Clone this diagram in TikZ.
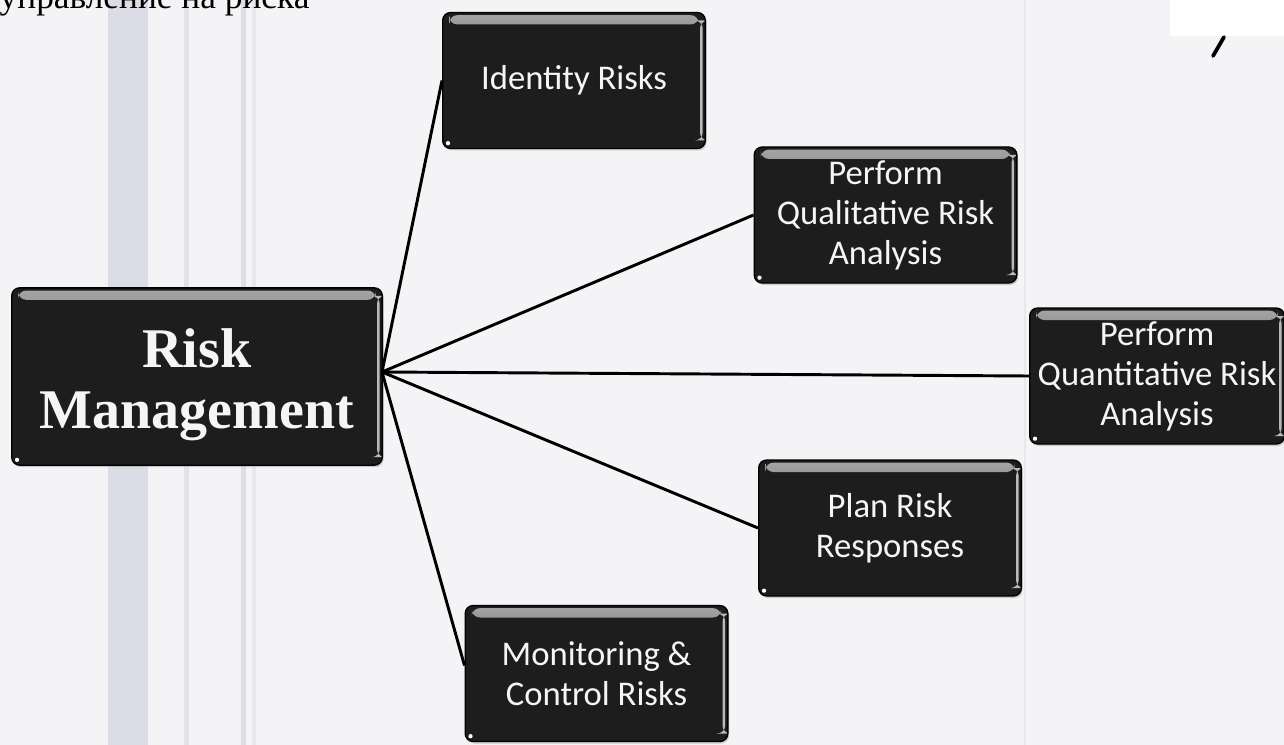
\documentclass[tikz,border=0pt]{standalone}
\usepackage{fontspec}
\setmainfont{Liberation Serif}
\newfontfamily\boxfont{Carlito}
\usetikzlibrary{shadows,positioning}
\definecolor{boxfill}{HTML}{1D1D1D}
\definecolor{paper}{HTML}{F4F4F7}
\definecolor{band}{HTML}{D6D6E2}
\tikzstyle{riskbox}=[draw=black, line width=1pt, fill=boxfill,
  rounded corners=6pt, text=white!92!gray, align=center, inner sep=0pt,
  minimum width=197pt, minimum height=102pt,
  font=\boxfont\fontsize{26}{30}\selectfont,
  drop shadow={opacity=.35, shadow xshift=1pt, shadow yshift=-1.5pt},
  path picture={
    \shade[top color=gray!70, bottom color=boxfill]
      ([xshift=5pt,yshift=-2pt]path picture bounding box.north west) rectangle
      ([xshift=-5pt,yshift=-9pt]path picture bounding box.north east);
    \fill[gray!55]
      ([xshift=-4pt,yshift=-6pt]path picture bounding box.north east) rectangle
      ([xshift=-2pt,yshift=6pt]path picture bounding box.south east);
    \fill[white]
      ([xshift=4pt,yshift=4pt]path picture bounding box.south west) circle (1.6pt);
  }]

\begin{document}
\begin{tikzpicture}[x=0.75pt, y=-0.75pt]
    \tikzstyle{connector}=[line width=2.2pt, black]
    \useasboundingbox (0,0) rectangle (1284,745);
    \clip (0,0) rectangle (1284,745);

    % scanned page background
    \fill[paper] (0,0) rectangle (1284,745);
    \fill[band!85] (108,0) rectangle (148,745);
    \fill[band!70] (184,0) rectangle (189,745);
    \fill[band!80] (241,0) rectangle (246,745);
    \fill[band!60] (252,0) rectangle (256,745);
    \fill[band!60] (1024,0) rectangle (1026,745);
    \fill[white] (1170,0) rectangle (1284,36);
    \draw[line width=2.8pt, line cap=round] (1224,37) -- (1213,56);

    \node[anchor=base west, font=\fontsize{26.5}{30}\selectfont] (head)
      at (-5,9) {управление на риска};

    % centre and branches
    \node[riskbox, minimum width=278pt, minimum height=133pt] at (197,376.5)
      (rm) {};
    \node[text=white!92!gray, align=center,
      font=\bfseries\fontsize{42}{46}\selectfont] at ([yshift=-6pt]rm.center)
      (rmtext) {Risk\\Management};
    \coordinate (hub) at (382,372);

    \node[riskbox] at (574,80.5) (ident) {Identity Risks};
    \node[riskbox] at (885.5,215) (qual) {Perform\\Qualitative Risk\\Analysis};
    \node[riskbox, minimum width=191pt] at (1157,376) (quant)
      {Perform\\Quantitative Risk\\Analysis};
    \node[riskbox] at (890,528) (plan) {Plan Risk\\Responses};
    \node[riskbox] at (596.5,673.5) (monit) {Monitoring \&\\Control Risks};

    \draw[connector] (hub) -- (ident.west);
    \draw[connector] (hub) -- (qual.west);
    \draw[connector] (hub) -- (quant.west);
    \draw[connector] (hub) -- (plan.west);
    \draw[connector] (hub) -- ([yshift=6pt]monit.west);
\end{tikzpicture}
\end{document}
